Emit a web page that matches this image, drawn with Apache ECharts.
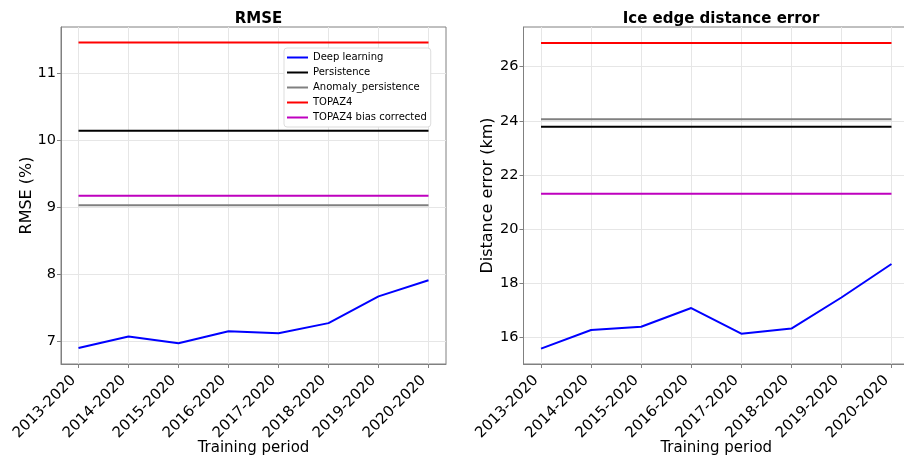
<!DOCTYPE html>
<html>
<head>
<meta charset="utf-8">
<script src="https://cdn.jsdelivr.net/npm/echarts@6/dist/echarts.min.js"></script>
<style>
  html, body { margin: 0; padding: 0; background: #fff; }
  #chart { width: 904px; height: 459px; }
</style>
</head>
<body>
<div id="chart"></div>
<script>
// training periods (x categories)
const periods = ['2013-2020', '2014-2020', '2015-2020', '2016-2020', '2017-2020', '2018-2020', '2019-2020', '2020-2020']

// RMSE (%)
const rmseDeep = [6.90, 7.07, 6.97, 7.15, 7.12, 7.27, 7.67, 7.91]
const rmsePersistence = 10.14
const rmseAnomaly = 9.03
const rmseTopaz = 11.46
const rmseTopazBc = 9.17
const rmseTicks = [7, 8, 9, 10, 11]

// Ice edge distance error (km)
const iceDeep = [15.57, 16.26, 16.38, 17.07, 16.12, 16.31, 17.46, 18.70]
const icePersistence = 23.78
const iceAnomaly = 24.06
const iceTopaz = 26.88
const iceTopazBc = 21.30
const iceTicks = [16, 18, 20, 22, 24, 26]

const names = ['Deep learning', 'Persistence', 'Anomaly_persistence', 'TOPAZ4', 'TOPAZ4 bias corrected']
const colors = ['#0000ff', '#000000', '#808080', '#ff0000', '#bf00bf']

const FONT = 'DejaVu Sans'
const xIdx = periods.map((p, i) => i)

function pts(v) {
  // v: array per period or one constant value
  return xIdx.map(i => [i, Array.isArray(v) ? v[i] : v])
}

function mkX(gi) {
  return {
    type: 'value', gridIndex: gi, min: -0.35, max: 7.35,
    name: 'Training period', nameLocation: 'middle', nameGap: 77, nameMoveOverlap: false,
    nameTextStyle: { fontFamily: FONT, fontSize: 15, color: '#000' },
    axisLine: { show: true, onZero: false, lineStyle: { color: '#808080', width: 1 } },
    axisTick: { show: true, length: 4, customValues: xIdx, lineStyle: { color: '#808080' } },
    axisLabel: {
      customValues: xIdx, rotate: 45, fontFamily: FONT, fontSize: 15, color: '#000', margin: 9,
      padding: [0, 7, 0, 0],
      formatter: v => periods[Math.round(v)]
    },
    splitLine: { show: true, lineStyle: { color: '#e6e6e6', width: 1 } }
  }
}

function mkY(gi, min, max, ticks, name, gap) {
  return {
    type: 'value', gridIndex: gi, min: min, max: max,
    name: name, nameLocation: 'middle', nameGap: gap, nameMoveOverlap: false,
    nameTextStyle: { fontFamily: FONT, fontSize: 16, color: '#000' },
    axisLine: { show: true, onZero: false, lineStyle: { color: '#808080', width: 1 } },
    axisTick: { show: true, length: 4, customValues: ticks, lineStyle: { color: '#808080' } },
    axisLabel: { customValues: ticks, fontFamily: FONT, fontSize: 14.5, color: '#000', margin: 5 },
    splitLine: { show: true, lineStyle: { color: '#e6e6e6', width: 1 } }
  }
}

function mkSeries(gi, list) {
  return list.map((d, k) => ({
    name: names[k], type: 'line', xAxisIndex: gi, yAxisIndex: gi,
    data: pts(d), symbol: 'none', silent: true, animation: false,
    lineStyle: { color: colors[k], width: 2 }, itemStyle: { color: colors[k] },
    z: k === 0 ? 5 : 3
  }))
}

const chart = echarts.init(document.getElementById('chart'))
chart.setOption({
  animation: false,
  title: [
    { text: 'RMSE', left: 253.5, top: 7, textAlign: 'center',
      textStyle: { fontFamily: FONT, fontSize: 15, fontWeight: 'bold', color: '#000' } },
    { text: 'Ice edge distance error', left: 716, top: 7, textAlign: 'center',
      textStyle: { fontFamily: FONT, fontSize: 15, fontWeight: 'bold', color: '#000' } }
  ],
  grid: [
    { left: 61, top: 27, width: 385, height: 337, outerBoundsMode: 'none', containLabel: false,
      show: true, borderColor: '#808080', borderWidth: 1, backgroundColor: 'transparent' },
    { left: 523.5, top: 27, width: 385.5, height: 337, outerBoundsMode: 'none', containLabel: false,
      show: true, borderColor: '#808080', borderWidth: 1, backgroundColor: 'transparent' }
  ],
  legend: {
    data: names.map((n, k) => ({ name: n, icon: 'rect', itemStyle: { color: colors[k] } })),
    orient: 'vertical', left: 284, top: 48,
    backgroundColor: '#fff', borderColor: '#dddddd', borderWidth: 1, borderRadius: 3,
    padding: [2, 4, 2, 3], itemWidth: 21, itemHeight: 2, itemGap: 0,
    textStyle: { fontFamily: FONT, fontSize: 10, color: '#000', lineHeight: 15 },
    selectedMode: false
  },
  xAxis: [mkX(0), mkX(1)],
  yAxis: [
    mkY(0, 6.66, 11.69, rmseTicks, 'RMSE (%)', 26),
    mkY(1, 15.0, 27.47, iceTicks, 'Distance error (km)', 28)
  ],
  series: [
    ...mkSeries(0, [rmseDeep, rmsePersistence, rmseAnomaly, rmseTopaz, rmseTopazBc]),
    ...mkSeries(1, [iceDeep, icePersistence, iceAnomaly, iceTopaz, iceTopazBc])
  ]
})
</script>
</body>
</html>
